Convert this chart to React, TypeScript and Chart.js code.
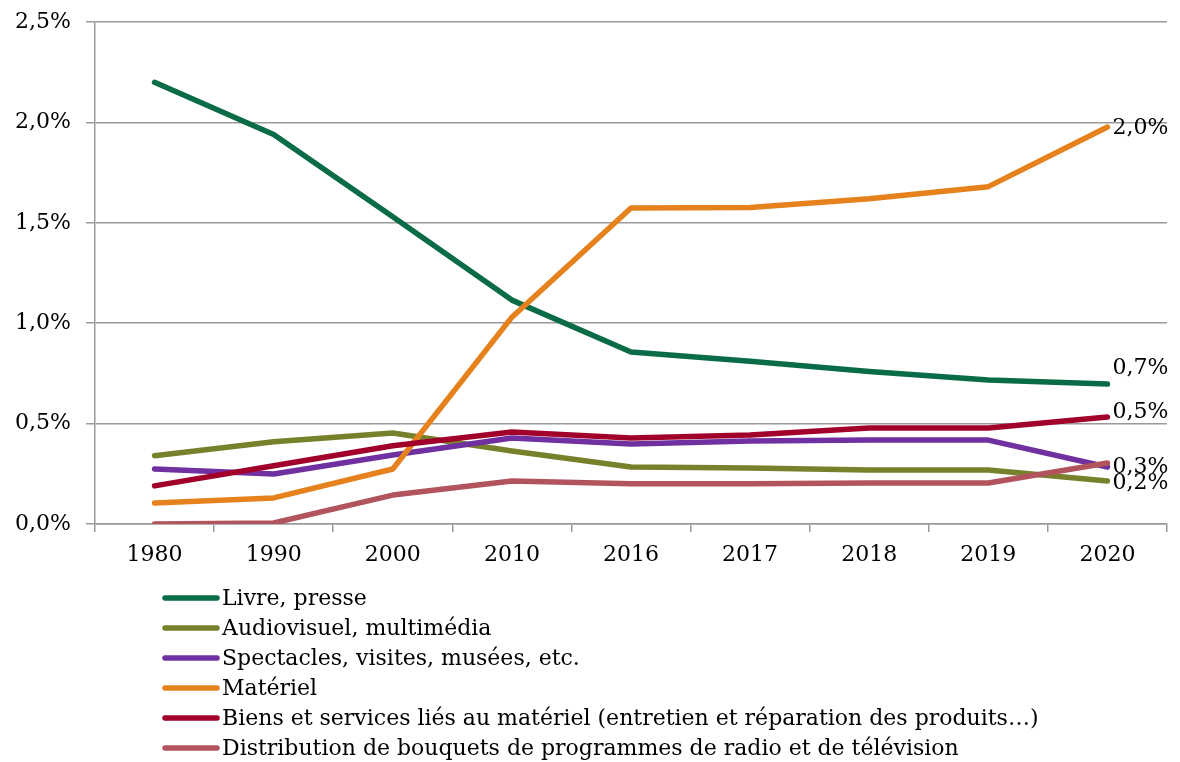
import React, { useEffect, useRef } from "react";
import { Chart, registerables } from "chart.js";

Chart.register(...registerables);

const years = ["1980", "1990", "2000", "2010", "2016", "2017", "2018", "2019", "2020"];

const livrePresse = [2.2, 1.94, 1.53, 1.115, 0.857, 0.81, 0.76, 0.717, 0.697];
const audiovisuel = [0.34, 0.41, 0.453, 0.364, 0.284, 0.279, 0.269, 0.269, 0.214];
const spectacles = [0.274, 0.249, 0.344, 0.428, 0.398, 0.413, 0.418, 0.418, 0.284];
const materiel = [0.105, 0.13, 0.274, 1.03, 1.574, 1.576, 1.62, 1.68, 1.977];
const biensServices = [0.19, 0.29, 0.39, 0.458, 0.428, 0.443, 0.478, 0.478, 0.533];
const distribution = [0.0, 0.005, 0.144, 0.214, 0.2, 0.2, 0.204, 0.204, 0.304];

const seriesNames = [
  "Livre, presse",
  "Audiovisuel, multimédia",
  "Spectacles, visites, musées, etc.",
  "Matériel",
  "Biens et services liés au matériel (entretien et réparation des produits…)",
  "Distribution de bouquets de programmes de radio et de télévision",
];
const seriesValues = [livrePresse, audiovisuel, spectacles, materiel, biensServices, distribution];
const seriesColors = ["#0a6b47", "#77802a", "#7030a0", "#e6821e", "#a1002b", "#b2545d"];
// which series get an end-of-line value label (Spectacles has none)
const endLabelShown = [true, true, false, true, true, true];

const yTicks = { min: 0, max: 2.5, step: 0.5 };

const FONT = "'DejaVu Serif', serif";

const fmt = (v: number) => v.toFixed(1).replace(".", ",") + "%";

const endLabelsPlugin = {
  id: "endLabels",
  afterDatasetsDraw(chart: any) {
    const ctx = chart.ctx;
    const dy = [-16, 2, 0, 1, -5, 4];
    ctx.save();
    ctx.font = `22px ${FONT}`;
    ctx.fillStyle = "#000";
    ctx.textAlign = "left";
    ctx.textBaseline = "middle";
    chart.data.datasets.forEach((ds: any, i: number) => {
      if (!endLabelShown[i]) return;
      const meta = chart.getDatasetMeta(i);
      const pt = meta.data[meta.data.length - 1];
      const v = ds.data[ds.data.length - 1];
      ctx.fillText(fmt(v), pt.x + 5, pt.y + dy[i]);
    });
    ctx.restore();
  },
};

const legendPlugin = {
  id: "listLegend",
  afterDraw(chart: any) {
    const ctx = chart.ctx;
    const area = chart.chartArea;
    const x0 = 165;
    const top = area.bottom + 74;
    const gap = 30;
    ctx.save();
    ctx.font = `22px ${FONT}`;
    ctx.textAlign = "left";
    ctx.textBaseline = "middle";
    chart.data.datasets.forEach((ds: any, i: number) => {
      const y = top + i * gap;
      ctx.strokeStyle = ds.borderColor;
      ctx.lineWidth = 5.5;
      ctx.lineCap = "round";
      ctx.beginPath();
      ctx.moveTo(x0, y);
      ctx.lineTo(x0 + 52, y);
      ctx.stroke();
      ctx.fillStyle = "#000";
      ctx.fillText(ds.label, x0 + 57, y + 1);
    });
    ctx.restore();
  },
};

export default function App() {
  const ref = useRef<HTMLCanvasElement>(null);

  useEffect(() => {
    if (!ref.current) return;
    const chart = new Chart(ref.current, {
      type: "line",
      data: {
        labels: years,
        datasets: seriesNames.map((name, i) => ({
          label: name,
          data: seriesValues[i],
          borderColor: seriesColors[i],
          backgroundColor: seriesColors[i],
          borderWidth: 5.5,
          borderCapStyle: "round" as const,
          borderJoinStyle: "round" as const,
          pointRadius: 0,
          tension: 0,
          fill: false,
          order: seriesNames.length - i,
        })),
      },
      options: {
        responsive: false,
        animation: false,
        events: [],
        layout: { padding: { left: 0, right: 13, top: 22, bottom: 0 } },
        plugins: {
          legend: { display: false },
          tooltip: { enabled: false },
          title: { display: false },
        },
        scales: {
          x: {
            offset: true,
            grid: {
              offset: true,
              drawOnChartArea: false,
              drawTicks: true,
              tickLength: 8,
              color: "#9a9a9a",
              lineWidth: 1.5,
            },
            border: { display: true, color: "#9a9a9a", width: 1.5 },
            ticks: {
              color: "#000",
              font: { family: FONT, size: 22 },
              padding: 10,
              maxRotation: 0,
              autoSkip: false,
            },
            afterFit: (s: any) => {
              s.height = 238;
            },
          },
          y: {
            min: yTicks.min,
            max: yTicks.max,
            grid: {
              color: "#9a9a9a",
              lineWidth: 1.5,
              drawTicks: true,
              tickLength: 9,
            },
            border: { display: true, color: "#9a9a9a", width: 1.5 },
            ticks: {
              stepSize: yTicks.step,
              color: "#000",
              font: { family: FONT, size: 22, lineHeight: 0.5 },
              padding: 15,
              callback: (v: any) => fmt(Number(v)),
            },
            afterFit: (s: any) => {
              s.width = 95;
            },
          },
        },
      },
      plugins: [endLabelsPlugin, legendPlugin],
    });
    return () => chart.destroy();
  }, []);

  return (
    <div style={{ position: "fixed", left: 0, top: 0, width: 1180, height: 762, background: "#fff" }}>
      <canvas ref={ref} width={1180} height={762} style={{ display: "block" }} />
    </div>
  );
}
